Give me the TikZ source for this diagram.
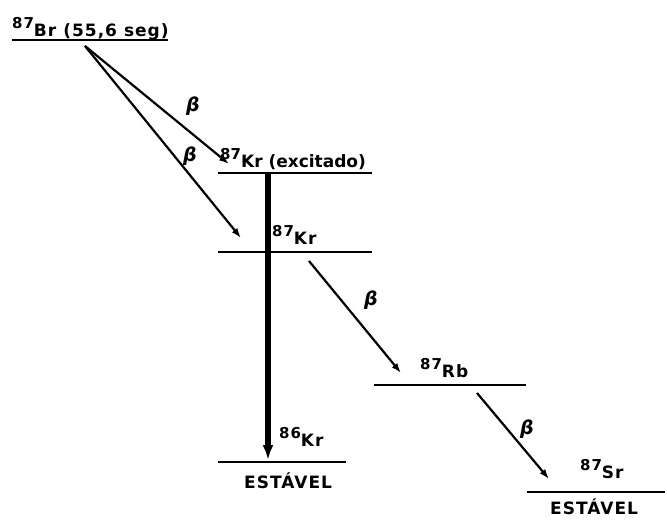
\documentclass[tikz,border=0pt]{standalone}
\usepackage{fontspec}
\setmainfont{DejaVu Sans}[LetterSpace=6]
\usetikzlibrary{arrows.meta}
\newcommand{\iso}[2]{\raisebox{0.42em}{\fontsize{15}{15}\selectfont #1}#2}
\begin{document}
\begin{tikzpicture}[x=1pt,y=-1pt,
  level/.style={line width=2.8pt},
  decay/.style={line width=2.2pt,-{Latex[length=10pt,width=7pt]}},
  lbl/.style={inner sep=0pt,font=\bfseries\fontsize{17}{20}\selectfont},
  beta/.style={inner sep=0pt,font=\bfseries\itshape\fontsize{19}{22}\selectfont}]
\useasboundingbox (0,0) rectangle (667,520);
% levels
\coordinate (brL) at (12,40);   \coordinate (brR) at (168,40);
\coordinate (kxL) at (218,173); \coordinate (kxR) at (372,173);
\coordinate (krL) at (218,252); \coordinate (krR) at (372,252);
\coordinate (rbL) at (374,385); \coordinate (rbR) at (526,385);
\coordinate (k6L) at (218,462); \coordinate (k6R) at (346,462);
\coordinate (srL) at (527,492); \coordinate (srR) at (665,492);
\draw[level] (brL) -- (brR);
\draw[level] (kxL) -- (kxR);
\draw[level] (krL) -- (krR);
\draw[level] (rbL) -- (rbR);
\draw[level] (k6L) -- (k6R);
\draw[level] (srL) -- (srR);
% labels
\node[lbl,anchor=base west] (tbr) at (12,36) {\iso{87}{Br (55,6 seg)}};
\node[lbl,anchor=base west] (tkx) at (220,167) {\addfontfeatures{LetterSpace=0}\iso{87}{Kr (excitado)}};
\node[lbl,anchor=base west] (tkr) at (272,244) {\iso{87}{Kr}};
\node[lbl,anchor=base west] (trb) at (420,377) {\iso{87}{Rb}};
\node[lbl,anchor=base west] (tk6) at (279,446) {\iso{86}{Kr}};
\node[lbl,anchor=base west] (ts1) at (244,488) {ESTÁVEL};
\node[lbl,anchor=base west] (tsr) at (580,478) {\iso{87}{Sr}};
\node[lbl,anchor=base west] (ts2) at (550,514) {ESTÁVEL};
% decay arrow endpoints
\coordinate (a0) at (85,46);
\coordinate (a1) at (229,164);
\coordinate (a2) at (241,238);
\coordinate (g0) at (268,173);
\coordinate (g1) at (268,460);
\coordinate (b0) at (309,261);
\coordinate (b1) at (401,373);
\coordinate (c0) at (477,393);
\coordinate (c1) at (549,479);
\draw[decay] (a0) -- (a1);
\draw[decay] (a0) -- (a2);
\draw[line width=6pt,-{Latex[length=15pt,width=11pt]}] (g0) -- (g1);
\draw[decay] (b0) -- (b1);
\draw[decay] (c0) -- (c1);
% beta labels
\node[beta] (be1) at (193,106) {β};
\node[beta] (be2) at (190,156) {β};
\node[beta] (be3) at (371,300) {β};
\node[beta] (be4) at (527,429) {β};
\end{tikzpicture}
\end{document}
